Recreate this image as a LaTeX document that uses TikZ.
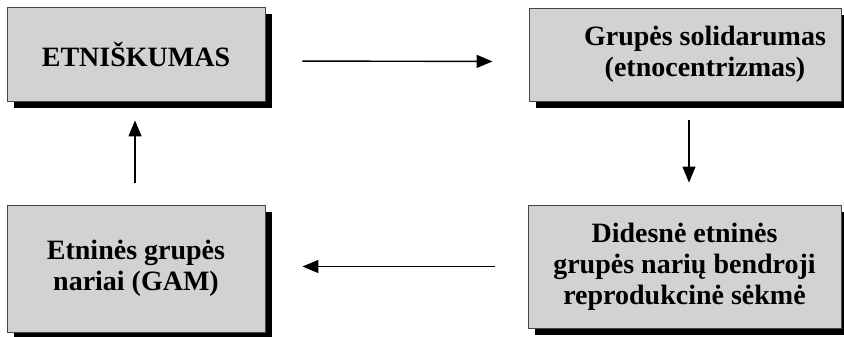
\documentclass[tikz,border=0pt]{standalone}
\usepackage{fontspec}
\setmainfont{Liberation Serif}[BoldFont={Liberation Serif Bold}]
\usetikzlibrary{arrows.meta,shadows}
\definecolor{boxgray}{RGB}{209,210,212}
\definecolor{edgegray}{RGB}{70,70,70}
\begin{document}
\begin{tikzpicture}[x=1pt,y=-1pt,
  box/.style={draw=edgegray,line width=0.9pt,fill=boxgray,
    drop shadow={shadow xshift=7pt,shadow yshift=-7pt,fill=black,opacity=1},
    align=center,inner sep=0pt,
    font=\fontsize{28}{31}\selectfont\bfseries},
  arr/.style={line width=1.4pt,-{Triangle[length=16pt,width=13pt]}}]
\path[use as bounding box,clip] (0,0) rectangle (844,337);
\node[box,minimum width=258pt,minimum height=94pt] (b1) at (136,54) {ETNIŠKUMAS};
\node[box,minimum width=312pt,minimum height=93pt] (b2) at (685,54.5)
  {\hspace*{40pt}\begin{tabular}{@{}c@{}}Grupės solidarumas\\(etnocentrizmas)\end{tabular}};
\node[box,minimum width=313pt,minimum height=123pt] (b3) at (684.5,266.5)
  {Didesnė etninės\\grupės narių bendroji\\reprodukcinė sėkmė};
\node[box,minimum width=258pt,minimum height=127pt] (b4) at (136,268.5)
  {Etninės grupės\\nariai (GAM)};
\draw[arr,shorten <=37pt,shorten >=36pt] ([yshift=-7pt]b1.east) -- ([yshift=-7pt]b2.west);
\draw[arr,shorten <=19pt,shorten >=22pt] ([xshift=4pt]b2.south) -- ([xshift=4pt]b2.south |- b3.north);
\draw[arr,shorten <=33pt,shorten >=37pt] (b3.west) -- (b3.west -| b4.east);
\draw[arr,shorten <=22pt,shorten >=19pt] ([xshift=-1pt]b4.north) -- ([xshift=-1pt]b4.north |- b1.south);
\end{tikzpicture}
\end{document}
